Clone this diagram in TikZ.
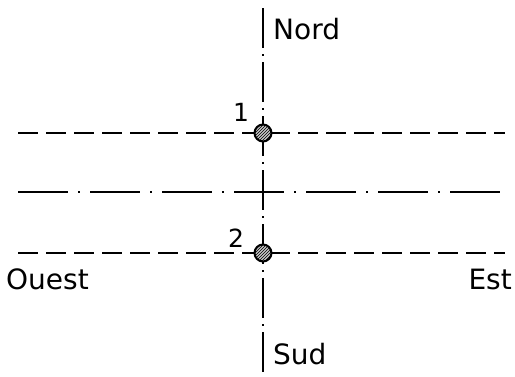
\documentclass[tikz,border=0pt]{standalone}
\usepackage{fontspec}
\setmainfont{DejaVu Sans}
\usetikzlibrary{positioning,patterns}
\begin{document}
\begin{tikzpicture}[x=1pt,y=-1pt,
        axe/.style={line width=2.4pt, dash pattern=on 40pt off 6pt on 2pt off 6pt},
        trait/.style={line width=2.4pt, dash pattern=on 20pt off 8pt},
        mixte/.style={line width=2.4pt, dash pattern=on 50pt off 10pt on 2pt off 10pt},
        point/.style={circle, draw, line width=2pt, preaction={fill=gray!45}, pattern=north east lines, minimum size=17pt, inner sep=0pt},
        lab/.style={font=\fontsize{28}{30}\selectfont, inner sep=0pt}
    ]
    \useasboundingbox (0,0) rectangle (515,376);
    % axes
    \coordinate (haut) at (263,8);
    \coordinate (bas) at (263,376);
    \draw[axe] (haut) -- (bas);
    \draw[trait] (18,133) -- (505,133);
    \draw[mixte] (18,192) -- (505,192);
    \draw[trait] (18,253) -- (505,253);
    % points
    \node[point] (p1) at (263,133) {};
    \node[point] (p2) at (263,253) {};
    \node[lab, font=\fontsize{25}{27}\selectfont] (n1) at (241,112) {1};
    \node[lab, font=\fontsize{25}{27}\selectfont] (n2) at (236,238) {2};
    % orientation
    \node[lab, anchor=west] (nord) at (273,29) {Nord};
    \node[lab, anchor=west] (sud) at (273,354) {Sud};
    \node[lab, anchor=west] (ouest) at (6,279) {Ouest};
    \node[lab, anchor=east] (est) at (512,279) {Est};
\end{tikzpicture}
\end{document}
